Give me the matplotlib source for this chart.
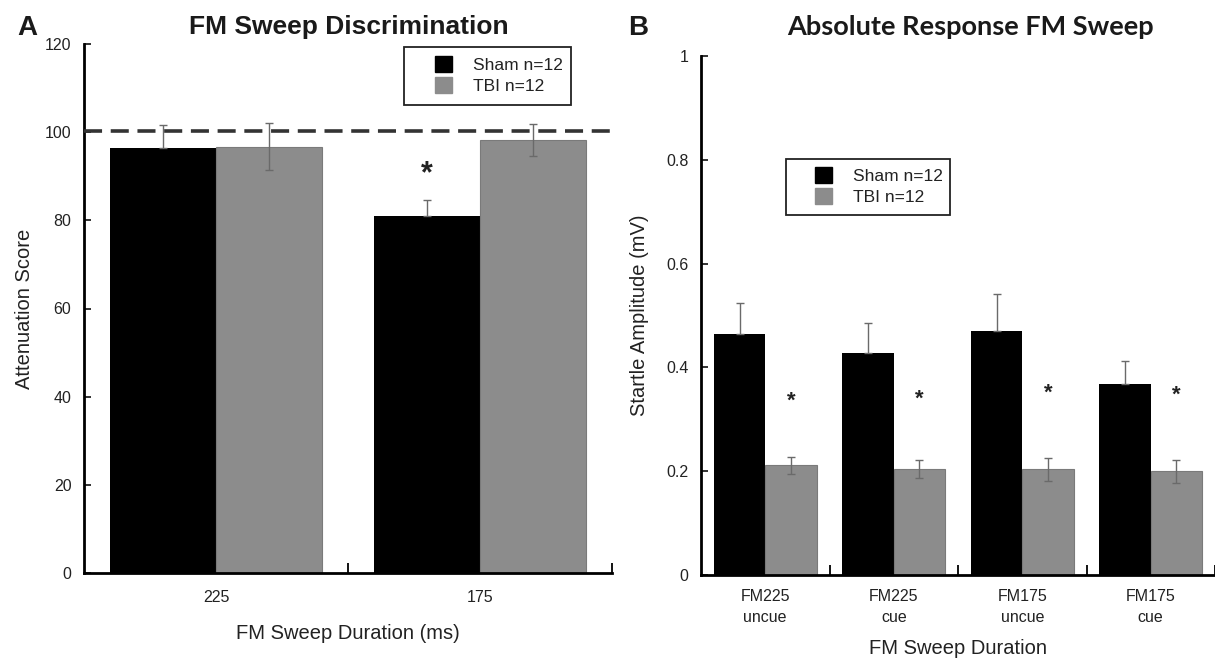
import numpy as np
import matplotlib
matplotlib.use("Agg")
import matplotlib.pyplot as plt
from matplotlib.patches import Rectangle, Patch

# ---------------- data ----------------
a_categories = ["225", "175"]
a_sham = [96.5, 81.0]
a_sham_err = [5.2, 3.7]
a_tbi = [96.7, 98.3]
a_tbi_err = [5.3, 3.6]
a_reference = 100.3
a_star_y = [90.5]          # star above Sham 175
a_star_idx = [1]

b_categories = ["FM225\nuncue", "FM225\ncue", "FM175\nuncue", "FM175\ncue"]
b_sham = [0.464, 0.428, 0.471, 0.368]
b_sham_err = [0.060, 0.057, 0.070, 0.044]
b_tbi = [0.211, 0.204, 0.204, 0.200]
b_tbi_err = [0.016, 0.017, 0.022, 0.022]
b_star_y = [0.335, 0.339, 0.350, 0.346]

legend_labels = ["Sham n=12", "TBI n=12"]

# ---------------- style ----------------
W, H = 1215, 658
plt.rcParams['font.family'] = ['Liberation Sans', 'DejaVu Sans']
BLACK = "#000000"
GRAY = "#8c8c8c"
ERR = "#6a6a6a"

fig = plt.figure(figsize=(W / 100, H / 100), dpi=100)


def fx(px):
    return px / W


def fy(py):
    return 1 - py / H


def style_axis(ax, ncat):
    for s in ["top", "right"]:
        ax.spines[s].set_visible(False)
    for s in ["left", "bottom"]:
        ax.spines[s].set_linewidth(2.0)
        ax.spines[s].set_color("black")
    ax.tick_params(axis="y", direction="in", length=5, width=1.3, pad=9, labelsize=11.5, colors="#222222")
    ax.tick_params(axis="x", which="major", length=0, pad=12, labelsize=11.5, colors="#222222")
    ax.set_xticks(np.arange(1, ncat + 1), minor=True)
    ax.tick_params(axis="x", which="minor", direction="in", length=7, width=1.3)


def draw_bars(ax, sham, sham_err, tbi, tbi_err, cats):
    n = len(cats)
    centers = np.arange(n) + 0.5
    w = 0.4
    xs = centers - w / 2
    xt = centers + w / 2
    ax.bar(xs, sham, width=w, color=BLACK, edgecolor=BLACK, linewidth=0, zorder=2)
    ax.bar(xt, tbi, width=w, color=GRAY, edgecolor="#7a7a7a", linewidth=0.8, zorder=2)
    ax.errorbar(xs, sham, yerr=[np.zeros(n), sham_err], fmt="none", ecolor=ERR,
                elinewidth=1.0, capsize=3, capthick=1.0, zorder=3)
    ax.errorbar(xt, tbi, yerr=tbi_err, fmt="none", ecolor=ERR,
                elinewidth=1.0, capsize=3, capthick=1.0, zorder=3)
    ax.set_xticks(centers)
    ax.set_xticklabels(cats)
    return xs, xt


# ---------------- panel A ----------------
axA = fig.add_axes([fx(84), fy(573), fx(612) - fx(84), (573 - 44) / H])
xsA, xtA = draw_bars(axA, a_sham, a_sham_err, a_tbi, a_tbi_err, a_categories)
axA.set_xlim(0, len(a_categories))
axA.set_ylim(0, 120)
axA.set_yticks(np.arange(0, 121, 20))
style_axis(axA, len(a_categories))
axA.axhline(a_reference, color="#333333", linewidth=2.6, dashes=(5, 2.4), zorder=4)
for i, y in zip(a_star_idx, a_star_y):
    axA.text(xsA[i], y, "*", ha="center", va="center", fontsize=22, fontweight="bold", color="#222222")
axA.set_xlabel("FM Sweep Duration (ms)", fontsize=14.5, labelpad=14, color="#222222")
axA.set_ylabel("Attenuation Score", fontsize=14.5, labelpad=8, color="#222222")

# ---------------- panel B ----------------
ncatB = len(b_categories)
right_px = W
axB = fig.add_axes([fx(701), fy(575), fx(right_px) - fx(701), (575 - 56) / H])
xsB, xtB = draw_bars(axB, b_sham, b_sham_err, b_tbi, b_tbi_err, b_categories)
axB.set_xlim(0, (right_px - 701) / 130.0)
axB.set_ylim(0, 1)
axB.set_yticks([0, 0.2, 0.4, 0.6, 0.8, 1.0])
axB.set_yticklabels(["0", "0.2", "0.4", "0.6", "0.8", "1"])
style_axis(axB, ncatB)
axB.tick_params(axis="x", which="major", pad=10, labelsize=11.5)
for lbl in axB.get_xticklabels():
    lbl.set_linespacing(1.5)
for x, y in zip(xtB, b_star_y):
    axB.text(x, y, "*", ha="center", va="center", fontsize=16, fontweight="bold", color="#222222")
axB.set_xlabel("FM Sweep Duration", fontsize=14.5, labelpad=10, color="#222222")
axB.set_ylabel("Startle Amplitude (mV)", fontsize=14.5, labelpad=12, color="#222222")

# ---------------- legends ----------------
handles = [Patch(facecolor=BLACK, edgecolor=BLACK), Patch(facecolor=GRAY, edgecolor=GRAY)]


def add_legend(box, handle_left, handle_top):
    x0, y0, x1, y1 = box
    fig.patches.append(Rectangle((fx(x0), fy(y1)), fx(x1) - fx(x0), fy(y0) - fy(y1),
                                 transform=fig.transFigure, facecolor="white",
                                 edgecolor="#222222", linewidth=1.3, zorder=5))
    leg = fig.legend(handles, legend_labels, loc="upper left",
                     bbox_to_anchor=(fx(handle_left), fy(handle_top)),
                     bbox_transform=fig.transFigure, frameon=False, borderpad=0,
                     borderaxespad=0, fontsize=12.5, handlelength=1.0, handleheight=1.0,
                     handletextpad=1.2, labelspacing=0.25)
    leg.set_zorder(6)
    for t in leg.get_texts():
        t.set_color("#222222")


add_legend((404, 47, 571, 105), 435, 56)
add_legend((786, 159, 950, 215), 815, 167)

# ---------------- titles / panel letters ----------------
fig.text(fx(349), fy(27), "FM Sweep Discrimination", ha="center", va="center",
         fontsize=19, fontweight="bold", color="#1a1a1a")
fig.text(fx(970), fy(27), "Absolute Response FM Sweep", ha="center", va="center",
         fontsize=19.5, fontweight="bold", family=["Lato", "DejaVu Sans"], color="#1a1a1a")
fig.text(fx(27), fy(28), "A", ha="center", va="center", fontsize=20, fontweight="bold", color="#1a1a1a")
fig.text(fx(638), fy(28), "B", ha="center", va="center", fontsize=20, fontweight="bold", color="#1a1a1a")

fig.savefig("out.png", dpi=100)
